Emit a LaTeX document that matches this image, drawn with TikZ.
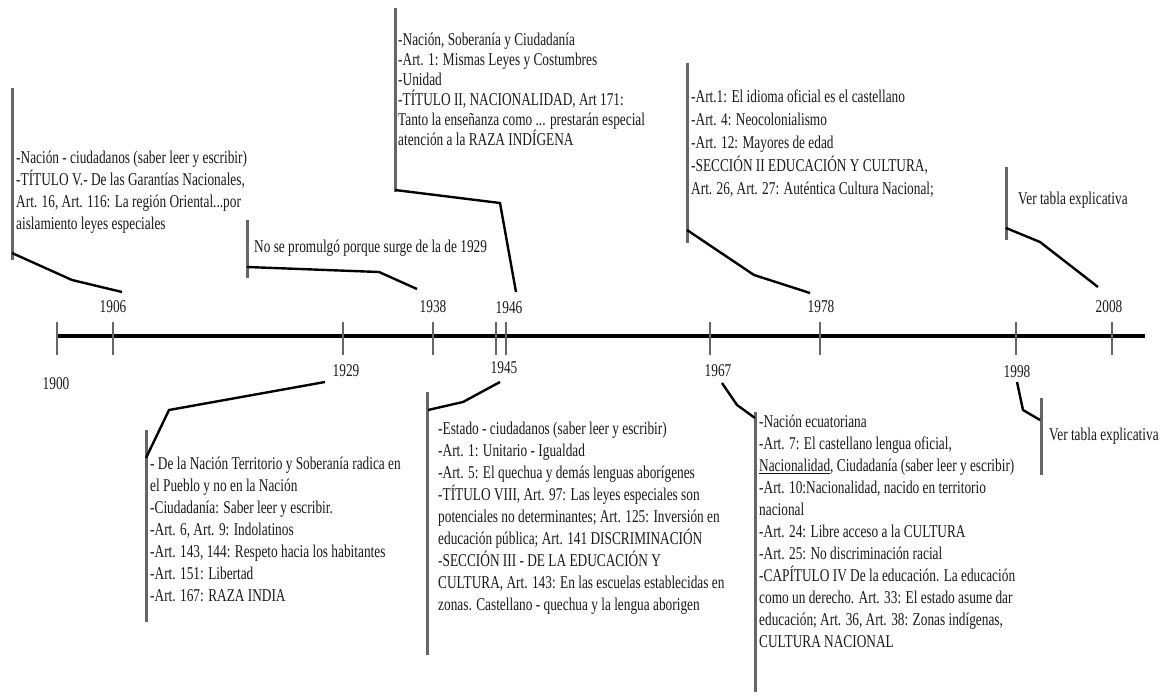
\documentclass[tikz,border=0pt]{standalone}
\usepackage{fontspec}
\setmainfont[FakeStretch=0.74]{Liberation Serif}
\begin{document}
\begin{tikzpicture}[x=1pt,y=-1pt,
  txt/.style={anchor=north west, inner sep=0pt, align=left, text=black!90, font=\fontsize{18}{22}\selectfont},
  txtb/.style={txt, font=\fontsize{18}{20}\selectfont},
  txtc/.style={txt, font=\fontsize{18}{23}\selectfont},
  yr/.style={inner sep=0pt, text=black!90, font=\fontsize{18}{22}\selectfont},
  bar/.style={draw=black!60, line width=3pt},
  lead/.style={draw=black, line width=2.4pt},
  tickline/.style={draw=black!60, line width=2.6pt},
  axisline/.style={draw=black, line width=3.4pt}]
\useasboundingbox (0,0) rectangle (1162,698);

% axis and ticks
\coordinate (axL) at (57,336);
\coordinate (axR) at (1145,336);
\draw[axisline] (axL) -- (axR);
\foreach \n/\x in {1900/57,1906/113,1929/343,1938/433,1945/496,1946/506,1967/710,1978/820,1998/1016,2008/1112}{
  \coordinate (tk\n a) at (\x,322);
  \coordinate (tk\n b) at (\x,355);
  \draw[tickline] (tk\n a) -- (tk\n b);
}

% year labels
\node[yr] (y1906) at (113,307) {1906};
\node[yr] (y1938) at (433,307) {1938};
\node[yr] (y1946) at (509,308) {1946};
\node[yr] (y1978) at (821,307) {1978};
\node[yr] (y2008) at (1109,307) {2008};
\node[yr] (y1900) at (56,384) {1900};
\node[yr] (y1929) at (346,371) {1929};
\node[yr] (y1945) at (504,368) {1945};
\node[yr] (y1967) at (718,371) {1967};
\node[yr] (y1998) at (1017,372) {1998};

% 1906 block
\coordinate (A1) at (12,88);
\coordinate (A2) at (12,260);
\draw[bar] (A1) -- (A2);
\node[txt] (tA) at (16,151) {-Nación - ciudadanos (saber leer y escribir)\\-TÍTULO V.- De las Garantías Nacionales,\\Art. 16, Art. 116: La región Oriental...por\\aislamiento leyes especiales};
\coordinate (Ab) at (12,253);
\coordinate (Am) at (72,280);
\coordinate (Ae) at (122,292);
\draw[lead] (Ab) -- (Am) -- (Ae);

% 1938 block
\coordinate (B1) at (247,220);
\coordinate (B2) at (247,278);
\draw[bar] (B1) -- (B2);
\node[txt] (tB) at (254,240) {No se promulgó porque surge de la de 1929};
\coordinate (Bb) at (247,267);
\coordinate (Bm) at (379,272);
\coordinate (Be) at (417,289);
\draw[lead] (Bb) -- (Bm) -- (Be);

% 1946 block
\coordinate (C1) at (395,8);
\coordinate (C2) at (395,192);
\draw[bar] (C1) -- (C2);
\node[txtb] (tC) at (398,33) {-Nación, Soberanía y Ciudadanía\\-Art. 1: Mismas Leyes y Costumbres\\-Unidad\\-TÍTULO II, NACIONALIDAD, Art 171:\\Tanto la enseñanza como ... prestarán especial\\atención a la RAZA INDÍGENA};
\coordinate (Cb) at (395,190);
\coordinate (Cm) at (500,203);
\coordinate (Ce) at (516,292);
\draw[lead] (Cb) -- (Cm) -- (Ce);

% 1978 block
\coordinate (D1) at (687,63);
\coordinate (D2) at (687,243);
\draw[bar] (D1) -- (D2);
\node[txtc] (tD) at (691,90) {-Art.1: El idioma oficial es el castellano\\-Art. 4: Neocolonialismo\\-Art. 12: Mayores de edad\\-SECCIÓN II EDUCACIÓN Y CULTURA,\\Art. 26, Art. 27: Auténtica Cultura Nacional;};
\coordinate (Db) at (687,230);
\coordinate (Dm) at (754,275);
\coordinate (De) at (810,293);
\draw[lead] (Db) -- (Dm) -- (De);

% 2008 block
\coordinate (E1) at (1006,167);
\coordinate (E2) at (1006,240);
\draw[bar] (E1) -- (E2);
\node[txt] (tE) at (1018,192) {Ver tabla explicativa};
\coordinate (Eb) at (1006,228);
\coordinate (Em) at (1040,242);
\coordinate (Ee) at (1098,287);
\draw[lead] (Eb) -- (Em) -- (Ee);

% 1929 block
\coordinate (F1) at (146,430);
\coordinate (F2) at (146,622);
\draw[bar] (F1) -- (F2);
\node[txt] (tF) at (150,457) {- De la Nación Territorio y Soberanía radica en\\el Pueblo y no en la Nación\\-Ciudadanía: Saber leer y escribir.\\-Art. 6, Art. 9: Indolatinos\\-Art. 143, 144: Respeto hacia los habitantes\\-Art. 151: Libertad\\-Art. 167: RAZA INDIA};
\coordinate (Fs) at (325,382);
\coordinate (Fm) at (169,410);
\coordinate (Fe) at (146,458);
\draw[lead] (Fs) -- (Fm) -- (Fe);

% 1945 block
\coordinate (G1) at (427,392);
\coordinate (G2) at (427,655);
\draw[bar] (G1) -- (G2);
\node[txt] (tG) at (438,422) {-Estado - ciudadanos (saber leer y escribir)\\-Art. 1: Unitario - Igualdad\\-Art. 5: El quechua y demás lenguas aborígenes\\-TÍTULO VIII, Art. 97: Las leyes especiales son\\potenciales no determinantes; Art. 125: Inversión en\\educación pública; Art. 141 DISCRIMINACIÓN\\-SECCIÓN III - DE LA EDUCACIÓN Y\\CULTURA, Art. 143: En las escuelas establecidas en\\zonas. Castellano - quechua y la lengua aborigen};
\coordinate (Gs) at (500,382);
\coordinate (Gm) at (463,402);
\coordinate (Ge) at (428,410);
\draw[lead] (Gs) -- (Gm) -- (Ge);

% 1967 block
\coordinate (H1) at (755,412);
\coordinate (H2) at (755,692);
\draw[bar] (H1) -- (H2);
\node[txt] (tH) at (759,415) {-Nación ecuatoriana\\-Art. 7: El castellano lengua oficial,\\\underline{Nacionalidad}, Ciudadanía (saber leer y escribir)\\-Art. 10:Nacionalidad, nacido en territorio\\nacional\\-Art. 24: Libre acceso a la CULTURA\\-Art. 25: No discriminación racial\\-CAPÍTULO IV De la educación. La educación\\como un derecho. Art. 33: El estado asume dar\\educación; Art. 36, Art. 38: Zonas indígenas,\\CULTURA NACIONAL};
\coordinate (Hs) at (722,383);
\coordinate (Hm) at (737,405);
\coordinate (He) at (755,418);
\draw[lead] (Hs) -- (Hm) -- (He);

% 1998 block
\coordinate (I1) at (1041,398);
\coordinate (I2) at (1041,475);
\draw[bar] (I1) -- (I2);
\node[txt] (tI) at (1049,428) {Ver tabla explicativa};
\coordinate (Is) at (1017,382);
\coordinate (Im) at (1023,410);
\coordinate (Ie) at (1040,420);
\draw[lead] (Is) -- (Im) -- (Ie);
\end{tikzpicture}
\end{document}
